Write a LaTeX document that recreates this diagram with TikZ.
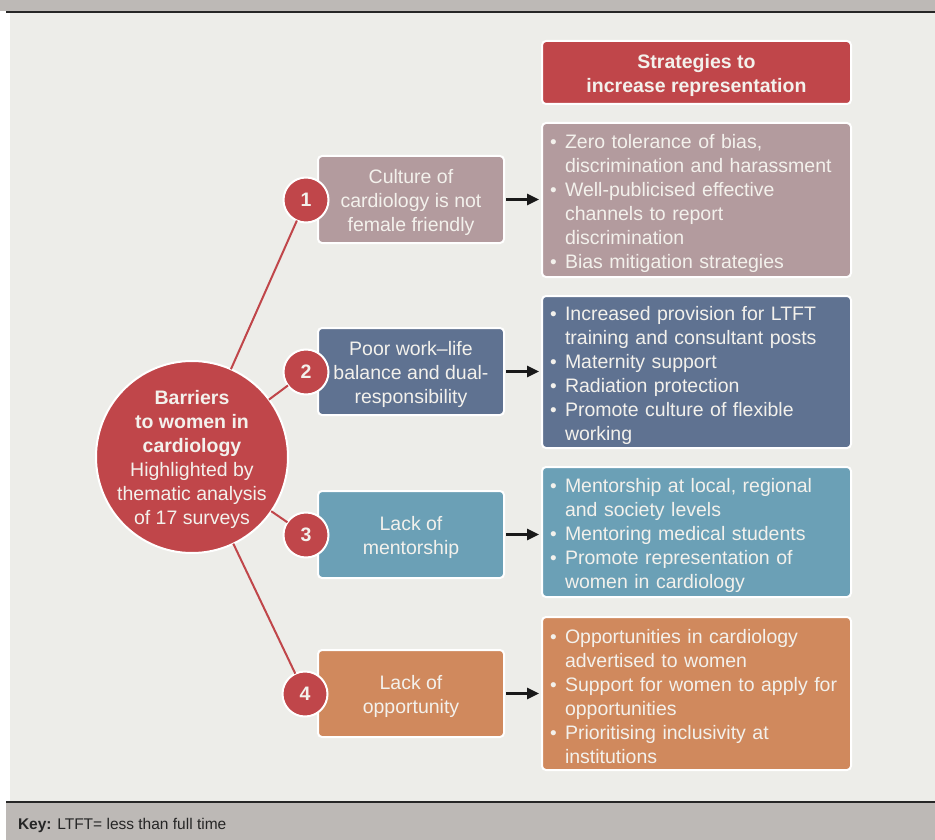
\documentclass[tikz,border=0pt]{standalone}
\usepackage{fontspec}
\setmainfont{Liberation Sans}
\usetikzlibrary{arrows.meta}
\definecolor{barg}{HTML}{BDB9B6}
\definecolor{panel}{HTML}{EDEDE9}
\definecolor{cred}{HTML}{C0464A}
\definecolor{mauve}{HTML}{B39B9E}
\definecolor{slate}{HTML}{5F7291}
\definecolor{teal}{HTML}{6BA0B6}
\definecolor{orng}{HTML}{D0895D}
\definecolor{txt}{HTML}{F3F1EC}
\newcommand\bl{\makebox[15pt][l]{\fontsize{19}{24}\selectfont\textbullet}}
\newcommand\ind{\hspace*{15pt}}
\begin{document}
\begin{tikzpicture}[x=1pt,y=-1pt,
  every node/.style={inner sep=0pt, outer sep=0pt},
  boxbase/.style={draw=white, line width=2pt, rounded corners=4pt},
  tbase/.style={text=txt, font=\fontsize{19.5}{24}\selectfont},
  lbox/.style={boxbase, minimum width=186pt, minimum height=87pt},
  rbox/.style={boxbase, minimum width=309pt},
  ltext/.style={tbase, align=center},
  rtext/.style={tbase, text width=293pt, align=left},
  numc/.style={circle, fill=cred, draw=white, line width=2pt, minimum size=45pt,
    text=txt, font=\fontsize{19.5}{24}\selectfont\bfseries},
  link/.style={draw=cred, line width=2pt},
  arr/.style={draw=black!90, line width=2.5pt, -{Triangle[length=12pt,width=11pt]}}
]
\useasboundingbox (0,0) rectangle (935,840);
\fill[white] (0,0) rectangle (935,840);
\fill[barg] (0,0) rectangle (935,11);
\fill[panel] (10,13) rectangle (935,801);
\draw[black!85, line width=2.5pt] (6,12) -- (935,12);
\fill[barg] (6,803) rectangle (935,840);
\draw[black!85, line width=2.5pt] (6,802) -- (935,802);
\node[anchor=west, font=\fontsize{15.5}{18}\selectfont, text=black!85] (key) at (18,825)
  {\textbf{Key:} LTFT= less than full time};

% header
\node[boxbase, fill=cred, minimum width=309pt, minimum height=63pt] (head) at (696.5,72.5) {};
\node[tbase, align=center, font=\fontsize{19.5}{24}\selectfont\bfseries] (headt)
  at ([yshift=-3pt]head.center) {Strategies to\\increase representation};

% left boxes
\node[lbox, fill=mauve] (l1) at (411,199.5) {};
\node[lbox, fill=slate] (l2) at (411,371.5) {};
\node[lbox, fill=teal] (l3) at (411,534.5) {};
\node[lbox, fill=orng] (l4) at (411,693.5) {};
\node[ltext] (l1t) at ([yshift=-3pt]l1.center) {Culture of\\cardiology is not\\female friendly};
\node[ltext] (l2t) at ([yshift=-3pt]l2.center) {Poor work–life\\balance and dual-\\responsibility};
\node[ltext] (l3t) at ([yshift=-3pt]l3.center) {Lack of\\mentorship};
\node[ltext] (l4t) at ([yshift=-3pt]l4.center) {Lack of\\opportunity};

% right boxes
\node[rbox, fill=mauve, minimum height=154pt] (r1) at (696.5,200) {};
\node[rbox, fill=slate, minimum height=152pt] (r2) at (696.5,372) {};
\node[rbox, fill=teal, minimum height=130pt] (r3) at (696.5,532) {};
\node[rbox, fill=orng, minimum height=153pt] (r4) at (696.5,693.5) {};
\node[rtext] (r1t) at ([yshift=-3pt]r1.center)
  {\bl Zero tolerance of bias,\\\ind discrimination and harassment\\\bl Well-publicised effective\\\ind channels to report\\\ind discrimination\\\bl Bias mitigation strategies};
\node[rtext] (r2t) at ([yshift=-3pt]r2.center)
  {\bl Increased provision for LTFT\\\ind training and consultant posts\\\bl Maternity support\\\bl Radiation protection\\\bl Promote culture of flexible\\\ind working};
\node[rtext] (r3t) at ([yshift=-3pt]r3.center)
  {\bl Mentorship at local, regional\\\ind and society levels\\\bl Mentoring medical students\\\bl Promote representation of\\\ind women in cardiology};
\node[rtext] (r4t) at ([yshift=-3pt]r4.center)
  {\bl Opportunities in cardiology\\\ind advertised to women\\\bl Support for women to apply for\\\ind opportunities\\\bl Prioritising inclusivity at\\\ind institutions};

% arrows
\draw[arr] ([xshift=2pt]l1.east) -- ([xshift=-3pt]l1.east -| r1.west);
\draw[arr] ([xshift=2pt]l2.east) -- ([xshift=-3pt]l2.east -| r2.west);
\draw[arr] ([xshift=2pt]l3.east) -- ([xshift=-3pt]l3.east -| r3.west);
\draw[arr] ([xshift=2pt]l4.east) -- ([xshift=-3pt]l4.east -| r4.west);

% big circle
\node[circle, fill=cred, draw=white, line width=2pt, minimum size=192pt, text=txt,
  align=center, font=\fontsize{19.5}{24}\selectfont] (big) at (192,457) {};
\node[tbase, align=center] (bigt) at ([yshift=-2pt]big.center)
  {\textbf{Barriers}\\\textbf{to women in}\\\textbf{cardiology}\\Highlighted by\\thematic analysis\\of 17 surveys};

% numbered circles
\node[numc] (n1) at (306,200) {1};
\node[numc] (n2) at (306,372) {2};
\node[numc] (n3) at (306,535) {3};
\node[numc] (n4) at (305,694) {4};

% links
\draw[link] (big) -- (n1);
\draw[link] (big) -- (n2);
\draw[link] (big) -- (n3);
\draw[link] (big) -- (n4);
\end{tikzpicture}
\end{document}
